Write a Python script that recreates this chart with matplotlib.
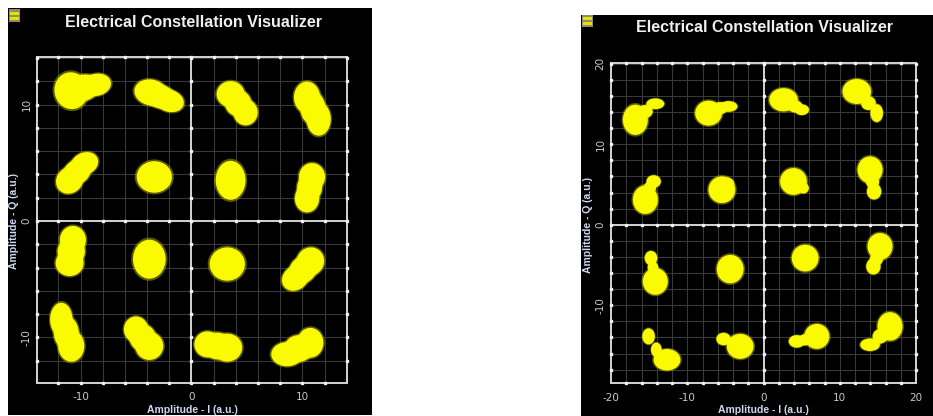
import numpy as np
import matplotlib.pyplot as plt
from matplotlib.patches import Ellipse, Rectangle

# left constellation: one entry per blob (I centre, Q centre, width, height, tilt)
left_i = [-10.84, -8.59, -9.72, -3.65, -2.01, -2.83, 3.53, 4.88, 4.21,
          10.42, 11.47, 10.95,
          -10.99, -9.64, -10.32, -3.35, 3.53, 10.87, 10.42, 10.65,
          -10.69, -10.99, -10.84, -3.80, 3.23, 9.37, 10.72, 10.05,
          -11.74, -10.84, -11.29, -5.00, -3.80, -4.40, 1.44, 3.23, 2.34,
          8.62, 10.72, 9.67]
left_q = [11.20, 11.71, 11.46, 11.05, 10.34, 10.70, 10.91, 9.34, 10.13,
          10.63, 8.77, 9.70,
          3.50, 4.93, 4.22, 3.79, 3.50, 3.79, 1.94, 2.87,
          -1.62, -3.62, -2.62, -3.28, -3.70, -4.90, -3.48, -4.19,
          -8.46, -10.74, -9.60, -9.32, -10.74, -10.03, -10.60, -10.88, -10.74,
          -11.45, -10.46, -10.96]
left_w = [2.69, 2.40, 2.50, 2.69, 2.40, 2.50, 2.25, 1.95, 2.10,
          2.10, 1.95, 2.00,
          2.25, 2.25, 2.25, 2.84, 2.40, 2.10, 1.95, 2.00,
          2.10, 2.25, 2.20, 2.63, 2.84, 2.25, 2.25, 2.25,
          1.80, 2.10, 2.00, 1.95, 2.25, 2.10, 2.10, 2.40, 2.25,
          2.54, 2.10, 2.30]
left_h = [2.85, 1.70, 2.00, 1.99, 1.70, 1.80, 1.99, 1.99, 2.00,
          2.42, 2.56, 2.50,
          1.99, 1.71, 1.85, 2.42, 2.99, 2.14, 2.14, 2.10,
          2.14, 1.99, 2.10, 2.99, 2.56, 1.85, 2.14, 2.00,
          2.56, 2.42, 2.50, 1.99, 2.14, 2.05, 1.99, 2.14, 2.05,
          1.85, 2.28, 2.05]
left_ang = [20, 10, 15, -10, -15, -12, 0, 0, 0,
            0, 0, 0,
            30, 20, 25, 0, 0, 0, 0, 0,
            0, 0, 0, 0, 0, 30, 30, 30,
            0, 0, 0, 0, 0, 0, 0, 0, 0,
            0, 0, 0]

# right constellation
right_i = [-16.81, -15.50, -14.19, -7.21, -5.68, -4.59, 2.62, 4.15, 5.02,
           12.23, 13.76, 14.85,
           -15.50, -14.41, -14.90, -5.46, -4.80, 3.93, 5.24,
           13.97, 14.50, 14.30,
           -14.76, -14.19, -14.50, -4.37, 5.46, 15.28, 14.41, 14.80,
           -15.07, -14.06, -12.66, -5.24, -3.06, 4.37, 6.99, 5.40,
           13.97, 15.28, 16.59]
right_q = [13.04, 14.08, 15.03, 13.87, 14.49, 14.70, 15.53, 14.70, 14.29,
           16.56, 15.11, 13.87,
           3.11, 5.38, 4.60, 4.35, 5.09, 5.38, 4.55,
           6.83, 4.14, 5.30,
           -4.14, -7.04, -5.30, -5.51, -4.14, -2.69, -5.18, -4.30,
           -13.87, -15.53, -16.77, -14.20, -15.11, -14.49, -13.87, -14.30,
           -14.91, -13.87, -12.63]
right_w = [3.06, 1.80, 2.18, 3.28, 1.80, 2.18, 3.49, 1.80, 1.75,
           3.49, 1.80, 1.53,
           3.06, 1.75, 1.50, 3.28, 1.75, 3.28, 1.31,
           3.06, 1.75, 1.60,
           1.53, 3.06, 1.30, 3.28, 3.28, 3.06, 1.75, 1.60,
           1.53, 1.31, 3.28, 1.75, 3.28, 1.97, 3.06, 1.50,
           2.40, 1.80, 3.06]
right_h = [3.52, 1.50, 1.24, 2.90, 1.40, 1.24, 2.69, 1.40, 1.24,
           2.90, 1.60, 2.07,
           3.31, 1.45, 1.40, 3.11, 1.45, 3.11, 1.24,
           3.11, 1.86, 1.40,
           1.66, 3.11, 1.30, 3.31, 3.11, 3.11, 1.86, 1.40,
           1.86, 1.66, 2.48, 1.45, 2.90, 1.45, 2.90, 1.30,
           1.45, 1.66, 3.31]

left_ticks = [-10, 0, 10]
right_xticks = [-20, -10, 0, 10, 20]
right_yticks = [-10, 0, 10, 20]

title = "Electrical Constellation Visualizer"
xlab = "Amplitude - I (a.u.)"
ylab = "Amplitude - Q (a.u.)"

fig = plt.figure(figsize=(9.33, 4.16), dpi=100)

# black panels behind each plot
fig.add_artist(Rectangle((0.0086, 0.0024), 0.3901, 0.9784, transform=fig.transFigure,
                         facecolor="black", edgecolor="none", zorder=0))
fig.add_artist(Rectangle((0.6227, 0.0), 0.3773, 0.9640, transform=fig.transFigure,
                         facecolor="black", edgecolor="none", zorder=0))


def draw_panel(ax, xs, ys, ws, hs, angs, xlim, ylim, xticks, yticks, k):
    ax.set_facecolor("black")
    ax.set_xlim(xlim)
    ax.set_ylim(ylim)
    grid = np.arange(-40, 41, 2)
    gx = grid[(grid > xlim[0]) & (grid < xlim[1])]
    gy = grid[(grid > ylim[0]) & (grid < ylim[1])]
    for g in gx:
        ax.axvline(g, color="#383838", lw=0.8, zorder=1)
    for g in gy:
        ax.axhline(g, color="#383838", lw=0.8, zorder=1)
    ax.axvline(0, color="#d4d4d4", lw=1.4, zorder=2)
    ax.axhline(0, color="#d4d4d4", lw=1.4, zorder=2)
    # little tick dots along frame and zero lines
    for yv in [ylim[0], ylim[1], 0]:
        ax.plot(gx, np.full(len(gx), yv), "s", ms=1.8, color="#f0f0f0",
                clip_on=False, zorder=3)
    for xv in [xlim[0], xlim[1], 0]:
        ax.plot(np.full(len(gy), xv), gy, "s", ms=1.8, color="#f0f0f0",
                clip_on=False, zorder=3)

    # soft speckled fringe, then the solid yellow cloud
    for x, y, w, h, a in zip(xs, ys, ws, hs, angs):
        ax.add_patch(Ellipse((x, y), w * k * 1.11, h * k * 1.11, angle=a,
                             facecolor="#c8c800", edgecolor="none", alpha=0.45,
                             zorder=4))
    for x, y, w, h, a in zip(xs, ys, ws, hs, angs):
        ax.add_patch(Ellipse((x, y), w * k, h * k, angle=a,
                             facecolor="#fafa00", edgecolor="none", zorder=5))

    for s in ax.spines.values():
        s.set_color("#d4d4d4")
        s.set_linewidth(1.4)
    ax.set_xticks(xticks)
    ax.set_yticks(yticks)
    ax.set_xticklabels([str(t) for t in xticks])
    ax.set_yticklabels([str(t) for t in yticks], rotation=90, va="center")
    ax.tick_params(length=0, colors="#c8c8c8", labelsize=7.5)
    ax.tick_params(axis="x", pad=7)
    ax.tick_params(axis="y", pad=4)


ax1 = fig.add_axes([0.0400, 0.0800, 0.3316, 0.7830])
draw_panel(ax1, left_i, left_q, left_w, left_h, left_ang,
           (-13.9, 14.0), (-13.9, 14.1), left_ticks, left_ticks, 1.12)

ax2 = fig.add_axes([0.6549, 0.0786, 0.3269, 0.7700])
draw_panel(ax2, right_i, right_q, right_w, right_h, [0] * len(right_i),
           (-20, 20), (-19.7, 20.1), right_xticks, right_yticks, 1.07)

# titles and axis labels
for tx, ty in [(0.2069, 0.947), (0.8199, 0.935)]:
    fig.text(tx, ty, title, color="#f0f0f0", fontsize=11.5, fontweight="bold",
             family="Liberation Sans", ha="center", va="center")
for tx in [0.2058, 0.8178]:
    fig.text(tx, 0.0144, xlab, color="#d0d8f2", fontsize=7.5, fontweight="bold",
             family="Liberation Sans", ha="center", va="center")
for tx, ty in [(0.0150, 0.4688), (0.6302, 0.459)]:
    fig.text(tx, ty, ylab, color="#d0d8f2", fontsize=7.5, fontweight="bold",
             family="Liberation Sans", ha="center", va="center", rotation=90)

# small window icons in the corners
for ix, iy in [(0.0097, 0.948), (0.6240, 0.935)]:
    fig.add_artist(Rectangle((ix, iy), 0.012, 0.030, transform=fig.transFigure,
                             facecolor="#8c8c70", edgecolor="none"))
    fig.add_artist(Rectangle((ix + 0.001, iy + 0.005), 0.010, 0.006,
                             transform=fig.transFigure, facecolor="#e8e000",
                             edgecolor="none"))
    fig.add_artist(Rectangle((ix + 0.001, iy + 0.017), 0.010, 0.006,
                             transform=fig.transFigure, facecolor="#e8e000",
                             edgecolor="none"))

fig.savefig("out.png", dpi=100, facecolor="white")
